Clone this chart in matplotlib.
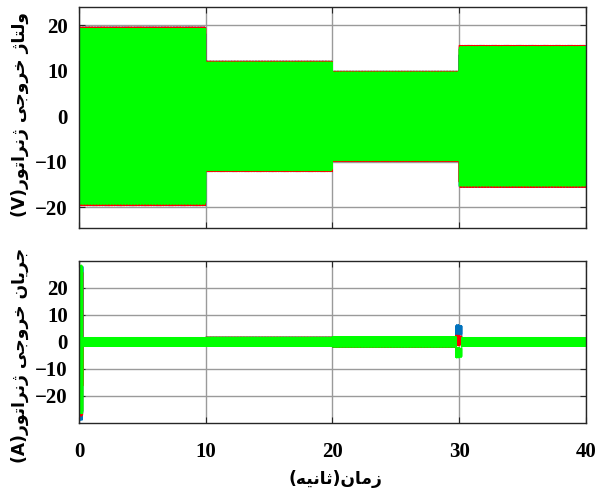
import numpy as np
import matplotlib
matplotlib.use("Agg")
from matplotlib import pyplot as plt

# segment boundaries (s) and per-segment peak values
seg_edges = [0, 10, 20, 30, 40]
v_peak = [19.4, 12.0, 9.8, 15.4]        # generator output voltage, V
i_peak = [1.6, 1.7, 1.9, 1.6]           # generator output current ripple, A

# per-phase scaling of the peaks (green sits a touch lower)
ph_gain = {'b': 1.012, 'r': 1.012, 'g': 0.995}

# start-up inrush (0 .. 0.3 s): per-phase amplitude and dc offset
inrush_end = 0.3
inrush_amp = {'b': 28.5, 'r': 27.5, 'g': 27.45}
inrush_off = {'b': -0.5, 'r': 0.0, 'g': 0.95}

# load step at 30 s: per-phase dc offset during the transient
step_win = [29.75, 30.2]
step_off = {'b': 4.3, 'r': 0.5, 'g': -4.0}

f_grid = 50.0
colors = {'b': '#0072BD', 'r': '#FF0000', 'g': '#00FF00'}
shift = {'b': 2 * np.pi / 3, 'r': -2 * np.pi / 3, 'g': 0.0}

x_ticks = [0, 10, 20, 30, 40]
y_ticks = [-20, -10, 0, 10, 20]

label_v = 'ولتاژ خروجی ژنراتور(V)'
label_i = 'جریان خروجی ژنراتور(A)'
label_t = 'زمان(ثانیه)'

# arabic letter forms: isolated, final, initial, medial
FORMS = {
    'ا': ('\uFE8D', '\uFE8E', None, None),
    'ت': ('\uFE95', '\uFE96', '\uFE97', '\uFE98'),
    'ث': ('\uFE99', '\uFE9A', '\uFE9B', '\uFE9C'),
    'ج': ('\uFE9D', '\uFE9E', '\uFE9F', '\uFEA0'),
    'خ': ('\uFEA5', '\uFEA6', '\uFEA7', '\uFEA8'),
    'ر': ('\uFEAD', '\uFEAE', None, None),
    'ز': ('\uFEAF', '\uFEB0', None, None),
    'ژ': ('\uFB8A', '\uFB8B', None, None),
    'ل': ('\uFEDD', '\uFEDE', '\uFEDF', '\uFEE0'),
    'م': ('\uFEE1', '\uFEE2', '\uFEE3', '\uFEE4'),
    'ن': ('\uFEE5', '\uFEE6', '\uFEE7', '\uFEE8'),
    'ه': ('\uFEE9', '\uFEEA', '\uFEEB', '\uFEEC'),
    'و': ('\uFEED', '\uFEEE', None, None),
    'ی': ('\uFBFC', '\uFBFD', '\uFBFE', '\uFBFF'),
}


def rtl(text):
    out = []
    for i, ch in enumerate(text):
        if ch not in FORMS:
            out.append(ch)
            continue
        iso, fin, ini, med = FORMS[ch]
        prev = text[i - 1] if i > 0 else ''
        nxt = text[i + 1] if i + 1 < len(text) else ''
        jp = prev in FORMS and FORMS[prev][2] is not None
        jn = nxt in FORMS and ini is not None
        if jp and jn:
            out.append(med)
        elif jp:
            out.append(fin)
        elif jn:
            out.append(ini)
        else:
            out.append(iso)
    vis = ''.join(out)[::-1]
    return vis.translate(str.maketrans('()', ')('))


t = np.linspace(0, 40, 13661)
seg = np.searchsorted(seg_edges[1:-1], t, side='right')
inrush = t < inrush_end
step = (t >= step_win[0]) & (t < step_win[1])

fig = plt.figure(figsize=(6.01, 4.95), dpi=100)
ax1 = fig.add_axes([0.1314, 0.5394, 0.8436, 0.4465])
ax2 = fig.add_axes([0.1314, 0.1455, 0.8436, 0.3278])

for ph in ['b', 'r', 'g']:
    carrier = np.sin(2 * np.pi * f_grid * t + shift[ph])
    v = ph_gain[ph] * np.array(v_peak)[seg] * carrier
    amp = np.where(inrush, inrush_amp[ph], ph_gain[ph] * np.array(i_peak)[seg])
    off = np.where(inrush, inrush_off[ph], 0.0) + np.where(step, step_off[ph], 0.0)
    i = amp * carrier + off
    ax1.plot(t, v, color=colors[ph], lw=0.8)
    ax2.plot(t, i, color=colors[ph], lw=0.8)

tick_font = dict(family='Liberation Serif', weight='bold', size=15)
for ax, ylim in [(ax1, (-24.5, 24)), (ax2, (-30, 30))]:
    ax.set_xlim(0, 40)
    ax.set_ylim(*ylim)
    ax.set_xticks(x_ticks)
    ax.set_yticks(y_ticks)
    ax.set_axisbelow(True)
    ax.grid(True, color='#9a9a9a', lw=1)
    ax.tick_params(direction='in', top=True, right=True, length=4,
                   color='#262626', pad=8)
    for s in ax.spines.values():
        s.set_color('#262626')
        s.set_linewidth(1)
    for lab in ax.get_yticklabels() + ax.get_xticklabels():
        lab.set_fontproperties(tick_font)

ax1.set_xticklabels([])
ax2.tick_params(axis='x', pad=14)

ar_font = dict(family='DejaVu Sans', weight='bold', size=12.3)
fig.text(0.034, 1 - 115 / 495, rtl(label_v), rotation=90, ha='center', va='center', **ar_font)
fig.text(0.034, 1 - 355 / 495, rtl(label_i), rotation=90, ha='center', va='center', **ar_font)
fig.text(335 / 601, 1 - 479 / 495, rtl(label_t), ha='center', va='center', **ar_font)

fig.savefig('out.png', dpi=100)
